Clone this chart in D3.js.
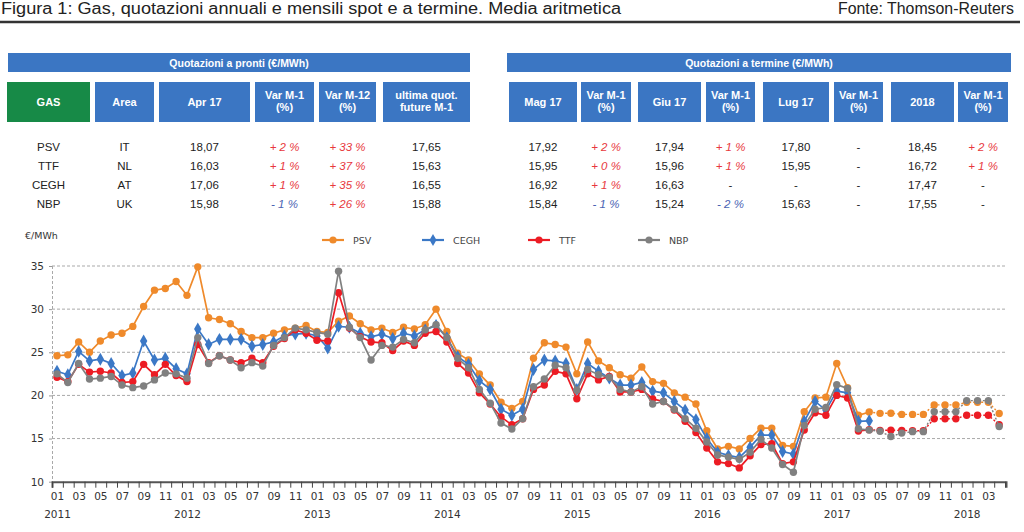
<!DOCTYPE html>
<html><head><meta charset="utf-8">
<script src="https://cdn.jsdelivr.net/npm/d3@7"></script>
<style>
body{margin:0;background:#fff;}
svg{display:block;font-family:"Liberation Sans",Arial,sans-serif;}
</style>
</head><body>
<svg id="c" width="1024" height="532"></svg>
<script>
// ---------------- DATA ----------------
const titleText = "Figura 1: Gas, quotazioni annuali e mensili spot e a termine. Media aritmetica";
const sourceText = "Fonte: Thomson-Reuters";
const spotHeader = "Quotazioni a pronti (€/MWh)";
const fwdHeader = "Quotazioni a termine (€/MWh)";
const spotCols = ["GAS", "Area", "Apr 17", "Var M-1\n(%)", "Var M-12\n(%)", "ultima quot.\nfuture M-1"];
const fwdCols = ["Mag 17", "Var M-1\n(%)", "Giu 17", "Var M-1\n(%)", "Lug 17", "Var M-1\n(%)", "2018", "Var M-1\n(%)"];
const hubs = ["PSV", "TTF", "CEGH", "NBP"];
const areas = ["IT", "NL", "AT", "UK"];
const apr17 = ["18,07", "16,03", "17,06", "15,98"];
const varM1 = ["+ 2 %", "+ 1 %", "+ 1 %", "- 1 %"];
const varM12 = ["+ 33 %", "+ 37 %", "+ 35 %", "+ 26 %"];
const futureM1 = ["17,65", "15,63", "16,55", "15,88"];
const mag17 = ["17,92", "15,95", "16,92", "15,84"];
const mag17Var = ["+ 2 %", "+ 0 %", "+ 1 %", "- 1 %"];
const giu17 = ["17,94", "15,96", "16,63", "15,24"];
const giu17Var = ["+ 1 %", "+ 1 %", "-", "- 2 %"];
const lug17 = ["17,80", "15,95", "-", "15,63"];
const lug17Var = ["-", "-", "-", "-"];
const y2018 = ["18,45", "16,72", "17,47", "17,55"];
const y2018Var = ["+ 2 %", "+ 1 %", "-", "-"];

const startYear = 2011;
const nMonths = 88; // Jan 2011 .. Apr 2018
const monthTickLabels = ["01", "02", "03", "04", "05", "06", "07", "08", "09", "10", "11", "12"];
const yearLabels = ["2011", "2012", "2013", "2014", "2015", "2016", "2017", "2018"];
const yTicks = [10, 15, 20, 25, 30, 35];
const yUnit = "€/MWh";
const legendNames = ["PSV", "CEGH", "TTF", "NBP"];

// spot monthly averages, Jan 2011 .. Apr 2017
const psvSpot = [24.6,24.7,26.2,25.0,26.3,27.0,27.2,28.0,30.3,32.2,32.4,33.2,
  31.6,34.9,29.0,28.8,28.3,27.4,26.7,26.7,27.2,27.6,27.8,28.1,
  27.4,27.3,28.6,29.2,28.3,27.6,27.8,27.3,27.9,27.7,28.2,30.0,
  27.4,24.9,24.1,22.5,21.2,19.2,18.5,19.3,24.3,26.1,25.9,25.6,
  22.5,26.2,24.0,23.2,22.4,22.0,23.3,21.6,21.4,20.3,19.8,19.0,
  15.9,13.8,14.1,13.8,15.0,16.2,16.2,14.2,14.1,18.1,19.7,19.8,
  23.7,20.9,17.7,18.07];
const ceghSpot = [22.8,22.4,25.1,24.0,24.2,23.7,22.3,22.6,26.3,24.1,24.3,23.1,
  22.5,27.7,25.9,26.5,26.5,26.5,25.7,25.9,26.2,26.9,27.1,27.2,
  26.9,25.5,28.0,27.9,27.2,26.8,27.1,26.6,27.2,26.9,27.6,28.1,
  26.7,24.5,23.6,21.7,20.7,18.4,17.7,18.4,23.0,24.1,24.0,23.7,
  20.7,23.7,22.8,22.0,21.2,21.2,21.5,20.5,20.3,19.3,18.3,17.2,
  15.0,13.4,13.05,12.8,14.0,15.4,15.4,13.5,13.2,17.0,19.3,18.3,
  20.5,20.3,17.0,17.06];
const ttfSpot = [22.1,21.6,23.6,22.7,22.8,22.6,21.5,21.6,23.6,22.4,23.6,22.3,
  21.6,25.9,23.8,24.6,24.1,23.8,24.3,23.8,25.7,26.6,27.6,27.2,
  26.4,26.3,31.9,27.8,26.8,26.2,26.1,25.2,26.3,25.8,27.2,27.4,
  26.2,23.7,22.6,20.3,19.0,17.5,16.6,17.3,20.7,21.2,22.8,22.5,
  19.6,22.5,21.8,22.2,20.4,20.4,20.7,19.6,19.3,18.3,17.0,15.7,
  13.9,12.3,12.1,11.6,13.0,14.3,14.4,12.1,12.3,16.0,18.0,17.7,
  20.0,19.7,15.87,16.03];
const nbpSpot = [22.5,21.5,23.7,21.9,22.0,22.2,21.2,20.9,21.1,21.8,22.6,22.5,
  22.0,26.7,23.7,24.6,24.1,23.2,23.8,23.4,25.8,26.7,27.8,27.6,
  27.3,27.1,34.4,27.9,26.7,24.1,25.8,25.6,26.5,26.1,27.6,28.2,
  26.7,24.3,23.2,20.7,19.1,16.8,16.1,17.3,21.0,21.9,23.5,23.2,
  20.6,23.0,22.4,22.1,20.7,20.4,21.0,19.0,19.3,18.4,17.3,16.2,
  14.6,13.1,12.85,12.6,13.4,14.9,13.9,12.0,11.1,16.5,18.4,18.6,
  21.25,20.8,16.14,15.98];
// forward quotations, May 2017 .. Apr 2018
const psvForward = [17.92,17.94,17.80,17.80,17.80,18.9,18.9,18.9,19.2,19.2,19.2,17.9];
const ttfForward = [15.95,15.96,15.95,15.90,15.90,17.3,17.3,17.3,17.7,17.7,17.7,16.6];
const nbpForward = [15.84,15.24,15.63,15.80,15.80,18.1,18.1,18.1,19.4,19.4,19.4,16.4];

// ---------------- DRAW ----------------
const svg = d3.select("#c");
const BLUE = "#3b76c3", GREEN = "#178a47";
const colors = {PSV: "#ef8a2b", CEGH: "#3b78c6", TTF: "#ec1c24", NBP: "#808080"};

// title
svg.append("text").attr("x", 1).attr("y", 14).attr("font-size", 16)
  .attr("font-family", "'Liberation Sans Narrow','Liberation Sans',Arial,sans-serif")
  .attr("textLength", 620).attr("lengthAdjust", "spacingAndGlyphs")
  .attr("fill", "#222").text(titleText);
svg.append("text").attr("x", 1014).attr("y", 14).attr("font-size", 16).attr("text-anchor", "end")
  .attr("font-family", "'Liberation Sans Narrow','Liberation Sans',Arial,sans-serif")
  .attr("textLength", 176).attr("lengthAdjust", "spacingAndGlyphs")
  .attr("fill", "#222").text(sourceText);
svg.append("line").attr("x1", 0).attr("x2", 1020).attr("y1", 22).attr("y2", 22)
  .attr("stroke", "#333").attr("stroke-width", 2.5);

// table bands
function band(x0, x1, label) {
  svg.append("rect").attr("x", x0).attr("y", 53).attr("width", x1 - x0).attr("height", 19).attr("fill", BLUE);
  svg.append("text").attr("x", (x0 + x1) / 2).attr("y", 66.5).attr("text-anchor", "middle")
    .attr("font-size", 10.5).attr("font-weight", "bold").attr("fill", "#fff").text(label);
}
band(8, 470, spotHeader);
band(507, 1011, fwdHeader);

const spotX = [[7, 90], [95, 154], [159, 250], [255, 314], [319, 376], [383, 470]];
const fwdX = [[509, 577], [581, 631], [638, 701], [706, 755], [763, 829], [834, 883], [891, 954], [958, 1008]];

function headerBox(x0, x1, label, fill) {
  svg.append("rect").attr("x", x0).attr("y", 82).attr("width", x1 - x0).attr("height", 40).attr("fill", fill);
  const lines = label.split("\n");
  const t = svg.append("text").attr("text-anchor", "middle").attr("font-size", 11)
    .attr("font-weight", "bold").attr("fill", "#fff");
  lines.forEach((ln, k) => {
    t.append("tspan").attr("x", (x0 + x1) / 2)
      .attr("y", lines.length === 1 ? 106 : 99 + k * 12).text(ln);
  });
}
spotCols.forEach((c, i) => headerBox(spotX[i][0], spotX[i][1], c, i === 0 ? GREEN : BLUE));
fwdCols.forEach((c, i) => headerBox(fwdX[i][0], fwdX[i][1], c, BLUE));

const rowY = [150.5, 169.5, 189, 208];
function cell(xr, row, txt, isVar) {
  const cx = (xr[0] + xr[1]) / 2;
  const t = svg.append("text").attr("x", cx).attr("y", rowY[row]).attr("text-anchor", "middle")
    .attr("font-size", 11.5).text(txt);
  if (isVar && txt !== "-") {
    t.attr("font-style", "italic").attr("fill", txt.trim().startsWith("-") ? "#4a63b3" : "#e8383d");
  } else {
    t.attr("fill", "#222");
  }
}
const spotData = [hubs, areas, apr17, varM1, varM12, futureM1];
const spotIsVar = [false, false, false, true, true, false];
spotData.forEach((col, ci) => col.forEach((v, r) => cell(spotX[ci], r, v, spotIsVar[ci])));
const fwdData = [mag17, mag17Var, giu17, giu17Var, lug17, lug17Var, y2018, y2018Var];
fwdData.forEach((col, ci) => col.forEach((v, r) => cell(fwdX[ci], r, v, ci % 2 === 1)));

// ---------- chart ----------
const x = d3.scaleLinear().domain([-0.4617, 87.63]).range([52, 1006]);
const y = d3.scaleLinear().domain([10, 35]).range([481.7, 266]);

// grid
svg.append("g").selectAll("line").data(yTicks.filter(v => v > 10)).join("line")
  .attr("x1", 52).attr("x2", 1007).attr("y1", d => y(d)).attr("y2", d => y(d))
  .attr("stroke", "#a9a9a9").attr("stroke-width", 1).attr("stroke-dasharray", "3,2");
svg.append("line").attr("x1", 52.5).attr("x2", 52.5).attr("y1", y(35)).attr("y2", y(10))
  .attr("stroke", "#a9a9a9").attr("stroke-dasharray", "3,2");

// y axis labels
const yAx = svg.append("g").attr("transform", "translate(52,0)")
  .call(d3.axisLeft(y).tickValues(yTicks).tickSize(3).tickPadding(5).tickFormat(d3.format("d")));
yAx.select(".domain").remove();
yAx.selectAll("line").attr("stroke", "#999");
yAx.selectAll("text").attr("font-family", "'DejaVu Sans',sans-serif").attr("font-size", 10.5).attr("fill", "#333");

svg.append("text").attr("x", 25).attr("y", 239).attr("font-size", 9.5)
  .attr("font-family", "'DejaVu Sans',sans-serif").attr("fill", "#333").text(yUnit);

// x axis ticks
const xTick = svg.append("g").attr("transform", "translate(0,481.7)")
  .call(d3.axisBottom(x).tickValues(d3.range(0, nMonths + 1).map(i => i - 0.46)).tickSize(6).tickFormat(""));
xTick.select(".domain").attr("stroke", "#555").attr("stroke-width", 2);
xTick.selectAll(".tick line").attr("stroke", "#444").attr("stroke-width", 1);

// month labels
const oddIdx = d3.range(0, nMonths).filter(i => i % 2 === 0);
const xLab = svg.append("g").attr("transform", "translate(0,482)")
  .call(d3.axisBottom(x).tickValues(oddIdx).tickSize(0).tickPadding(11)
    .tickFormat(i => monthTickLabels[i % 12]));
xLab.select(".domain").remove();
xLab.selectAll("text").attr("font-family", "'DejaVu Sans',sans-serif").attr("font-size", 10.5).attr("fill", "#333");

// year labels
const yearIdx = yearLabels.map((_, k) => k * 12);
const yrLab = svg.append("g").attr("transform", "translate(0,482)")
  .call(d3.axisBottom(x).tickValues(yearIdx).tickSize(0).tickPadding(29)
    .tickFormat(i => yearLabels[Math.round(i / 12)]));
yrLab.select(".domain").remove();
yrLab.selectAll("text").attr("font-family", "'DejaVu Sans',sans-serif").attr("font-size", 10.5).attr("fill", "#333");

// series
const line = d3.line().x(d => x(d.i)).y(d => y(d.v));
const spotLast = psvSpot.length - 1;
function toPts(arr, offset) { return arr.map((v, k) => ({i: k + offset, v})); }
const series = [
  {name: "PSV", spot: psvSpot, fwd: psvForward, shape: "circle"},
  {name: "CEGH", spot: ceghSpot, fwd: null, shape: "diamond"},
  {name: "TTF", spot: ttfSpot, fwd: ttfForward, shape: "circle"},
  {name: "NBP", spot: nbpSpot, fwd: nbpForward, shape: "circle"}
];
function marker(g, pts, s) {
  const c = colors[s.name];
  if (s.shape === "diamond") {
    g.selectAll(null).data(pts).join("path")
      .attr("d", d3.symbol(d3.symbolDiamond, 48))
      .attr("transform", d => `translate(${x(d.i)},${y(d.v)})`).attr("fill", c);
  } else {
    g.selectAll(null).data(pts).join("circle")
      .attr("cx", d => x(d.i)).attr("cy", d => y(d.v)).attr("r", 3.7).attr("fill", c);
  }
}
series.forEach(s => {
  const g = svg.append("g");
  const c = colors[s.name];
  const sp = toPts(s.spot, 0);
  g.append("path").attr("d", line(sp)).attr("fill", "none").attr("stroke", c).attr("stroke-width", 1.7);
  marker(g, sp, s);
  if (s.fwd) {
    const fp = toPts(s.fwd, spotLast + 1);
    g.append("path").attr("d", line([sp[spotLast]].concat(fp))).attr("fill", "none")
      .attr("stroke", c).attr("stroke-width", 1.4).attr("stroke-dasharray", "2,2");
    marker(g, fp, s);
  }
});

// legend
const legX = [322, 422, 528, 638];
const legG = svg.append("g");
legendNames.forEach((n, k) => {
  const s = series.find(d => d.name === n);
  const x0 = legX[k], ly = 240;
  legG.append("line").attr("x1", x0).attr("x2", x0 + 22).attr("y1", ly).attr("y2", ly)
    .attr("stroke", colors[n]).attr("stroke-width", 2.2);
  if (s.shape === "diamond") {
    legG.append("path").attr("d", d3.symbol(d3.symbolDiamond, 42)).attr("transform", `translate(${x0 + 11},${ly})`).attr("fill", colors[n]);
  } else {
    legG.append("circle").attr("cx", x0 + 11).attr("cy", ly).attr("r", 3.6).attr("fill", colors[n]);
  }
  legG.append("text").attr("x", x0 + 31).attr("y", ly + 3.5).attr("font-size", 9.5)
    .attr("font-family", "'DejaVu Sans',sans-serif").attr("fill", "#444").text(n);
});
</script>
</body></html>
